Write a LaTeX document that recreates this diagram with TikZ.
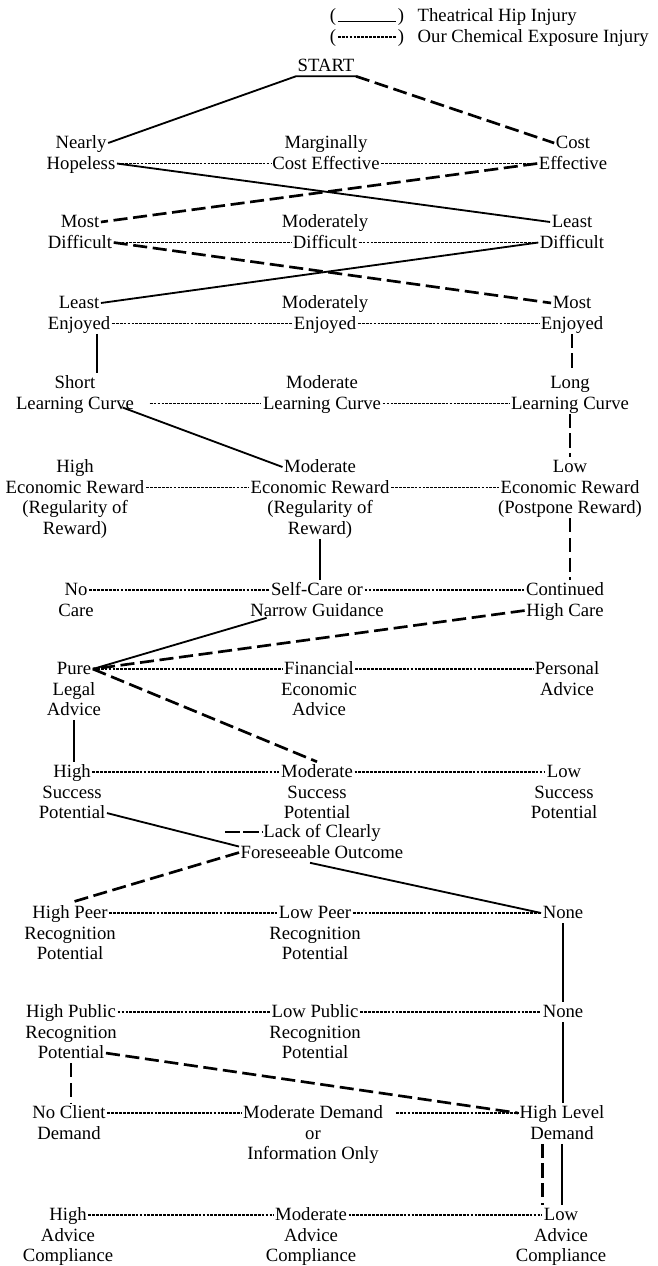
\documentclass[tikz,border=0pt]{standalone}
\usepackage{fontspec}
\setmainfont{Liberation Serif}
\usetikzlibrary{positioning,calc}
\tikzset{
  lbl/.style={inner xsep=1pt,inner ysep=0pt,text height=11pt,text depth=3.2pt,
    font=\fontsize{13.3}{14.2}\selectfont},
  hip/.style={line width=1.3pt},
  chem/.style={line width=1.9pt,dash pattern=on 10pt off 4pt},
  link/.style={line width=0.85pt,dash pattern=on 2pt off 0.8pt},
}
\begin{document}
\begin{tikzpicture}[x=0.025cm,y=-0.025cm,node distance=0pt,every node/.style={lbl}]
  \useasboundingbox (0,0) rectangle (657,1266);

  % key
  \node (k1o) at (333,16) {(};
  \node (k1c) at (401,16) {)};
  \node[anchor=west] (k1t) at (416,16) {Theatrical Hip Injury};
  \node (k2o) at (333,37) {(};
  \node (k2c) at (401,37) {)};
  \node[anchor=west] (k2t) at (416,37) {Our Chemical Exposure Injury};
  \draw[line width=0.9pt] (k1o.base east) -- (k1c.base west);
  \path (k2o) edge[link] (k2c);

  \node (start) at (326,66) {START};

  \node (L1a) at (81,143) {Nearly};
  \node[below=of L1a] (L1b) {Hopeless};
  \node (M1a) at (326,143) {Marginally};
  \node[below=of M1a] (M1b) {Cost Effective};
  \node (R1a) at (573,143) {Cost};
  \node[below=of R1a] (R1b) {Effective};

  \node (L2a) at (80,222) {Most};
  \node[below=of L2a] (L2b) {Difficult};
  \node (M2a) at (325,222) {Moderately};
  \node[below=of M2a] (M2b) {Difficult};
  \node (R2a) at (572,222) {Least};
  \node[below=of R2a] (R2b) {Difficult};

  \node (L3a) at (79,303) {Least};
  \node[below=of L3a] (L3b) {Enjoyed};
  \node (M3a) at (325,303) {Moderately};
  \node[below=of M3a] (M3b) {Enjoyed};
  \node (R3a) at (572,303) {Most};
  \node[below=of R3a] (R3b) {Enjoyed};

  \node (L4a) at (75,383) {Short};
  \node[below=of L4a] (L4b) {Learning Curve};
  \node (M4a) at (322,383) {Moderate};
  \node[below=of M4a] (M4b) {Learning Curve};
  \node (R4a) at (570,383) {Long};
  \node[below=of R4a] (R4b) {Learning Curve};

  \node (L5a) at (75,467) {High};
  \node[below=of L5a] (L5b) {Economic Reward};
  \node[below=of L5b] (L5c) {(Regularity of};
  \node[below=of L5c] (L5d) {Reward)};
  \node (M5a) at (320,467) {Moderate};
  \node[below=of M5a] (M5b) {Economic Reward};
  \node[below=of M5b] (M5c) {(Regularity of};
  \node[below=of M5c] (M5d) {Reward)};
  \node (R5a) at (570,467) {Low};
  \node[below=of R5a] (R5b) {Economic Reward};
  \node[below=of R5b] (R5c) {(Postpone Reward)};

  \node (L6a) at (76,590) {No};
  \node[below=of L6a] (L6b) {Care};
  \node (M6a) at (317,590) {Self-Care or};
  \node[below=of M6a] (M6b) {Narrow Guidance};
  \node (R6a) at (565,590) {Continued};
  \node[below=of R6a] (R6b) {High Care};

  \node (L7a) at (74,669) {Pure};
  \node[below=of L7a] (L7b) {Legal};
  \node[below=of L7b] (L7c) {Advice};
  \node (M7a) at (319,669) {Financial};
  \node[below=of M7a] (M7b) {Economic};
  \node[below=of M7b] (M7c) {Advice};
  \node (R7a) at (567,669) {Personal};
  \node[below=of R7a] (R7b) {Advice};

  \node (L8a) at (72,772) {High};
  \node[below=of L8a] (L8b) {Success};
  \node[below=of L8b] (L8c) {Potential};
  \node (M8a) at (317,772) {Moderate};
  \node[below=of M8a] (M8b) {Success};
  \node[below=of M8b] (M8c) {Potential};
  \node (R8a) at (564,772) {Low};
  \node[below=of R8a] (R8b) {Success};
  \node[below=of R8b] (R8c) {Potential};

  \node (M9a) at (322,832) {Lack of Clearly};
  \node[below=of M9a] (M9b) {Foreseeable Outcome};
  \coordinate (M9in) at (225,832);

  \node (L10a) at (70,913) {High Peer};
  \node[below=of L10a] (L10b) {Recognition};
  \node[below=of L10b] (L10c) {Potential};
  \node (M10a) at (315,913) {Low Peer};
  \node[below=of M10a] (M10b) {Recognition};
  \node[below=of M10b] (M10c) {Potential};
  \node (R10a) at (563,913) {None};

  \node (L11a) at (71,1012) {High Public};
  \node[below=of L11a] (L11b) {Recognition};
  \node[below=of L11b] (L11c) {Potential};
  \node (M11a) at (315,1012) {Low Public};
  \node[below=of M11a] (M11b) {Recognition};
  \node[below=of M11b] (M11c) {Potential};
  \node (R11a) at (563,1012) {None};

  \node (L12a) at (69,1113) {No Client};
  \node[below=of L12a] (L12b) {Demand};
  \node (M12a) at (313,1113) {Moderate Demand};
  \node[below=of M12a] (M12b) {or};
  \node[below=of M12b] (M12c) {Information Only};
  \node (R12a) at (562,1113) {High Level};
  \node[below=of R12a] (R12b) {Demand};

  \node (L13a) at (68,1215) {High};
  \node[below=of L13a] (L13b) {Advice};
  \node[below=of L13b] (L13c) {Compliance};
  \node (M13a) at (311,1215) {Moderate};
  \node[below=of M13a] (M13b) {Advice};
  \node[below=of M13b] (M13c) {Compliance};
  \node (R13a) at (561,1215) {Low};
  \node[below=of R13a] (R13b) {Advice};
  \node[below=of R13b] (R13c) {Compliance};

  % rows
  \path (L1b) edge[link] (M1b) (M1b) edge[link] (R1b)
        (L2b) edge[link] (M2b) (M2b) edge[link] (R2b)
        (L3b) edge[link] (M3b) (M3b) edge[link] (R3b)
        (L4b) edge[link,shorten <=10pt] (M4b) (M4b) edge[link] (R4b)
        (L5b) edge[link] (M5b) (M5b) edge[link] (R5b)
        (L6a) edge[link] (M6a) (M6a) edge[link] (R6a)
        (L7a) edge[link] (M7a) (M7a) edge[link] (R7a)
        (L8a) edge[link] (M8a) (M8a) edge[link] (R8a)
        (L10a) edge[link] (M10a) (M10a) edge[link] (R10a)
        (L11a) edge[link] (M11a) (M11a) edge[link] (R11a)
        (L12a) edge[link] (M12a) (M12a) edge[link,shorten <=8pt] (R12a)
        (L13a) edge[link] (M13a) (M13a) edge[link] (R13a);

  % hip injury
  \draw[hip] (L1a.east) -- (start.south west) -- (start.south east);
  \draw[hip] (L1b.east) -- (R2a.west);
  \draw[hip] (R2b.west) -- (L3a.east);
  \draw[hip] (L3b.south -| L4a.north east) -- (L4a.north east);
  \draw[hip] ($(L4b.east)+(-13,4)$) -- (M5a.west);
  \draw[hip] (M5d.south) -- (M5d.south |- M6a.north);
  \draw[hip] ($(M6b.south west)+(18,-3)$) -- (L7a.east);
  \draw[hip] (L7c.south) -- (L7c.south |- L8a.north);
  \draw[hip] (L8c.east) -- ($(M9b.west)+(0,-6)$);
  \draw[hip] ($(M9b.south)+(-12,0)$) -- (R10a.west);
  \draw[hip] (R10a.south) -- (R11a.north);
  \draw[hip] (R11a.south) -- (R11a.south |- R12a.north);
  \draw[hip] (R12b.south) -- (R12b.south |- R13a.north);

  % chemical exposure
  \draw[chem] (start.south east) -- (R1a.west);
  \draw[chem] (R1b.west) -- (L2a.east);
  \draw[chem] (L2b.east) -- (R3a.west);
  \draw[chem] (R3b.south) -- (R3b.south |- R4a.north);
  \draw[chem] (R4b.south) -- (R5a.north);
  \draw[chem] (R5c.south) -- (R5c.south |- R6a.north);
  \draw[chem] (R6b.west) -- (L7a.east);
  \draw[chem] (L7a.east) -- (M8a.north);
  \draw[chem,dash pattern=on 11pt off 2pt] (M9in) -- (M9a.west);
  \draw[chem] (M9b.west) -- (L10a.north);
  \draw[chem] (L11c.east) -- (R12a.west);
  \draw[chem] (L11c.south) -- (L11c.south |- L12a.north);
  \draw[chem] (R12b.south -| R13a.north west) -- (R13a.north west);
\end{tikzpicture}
\end{document}
